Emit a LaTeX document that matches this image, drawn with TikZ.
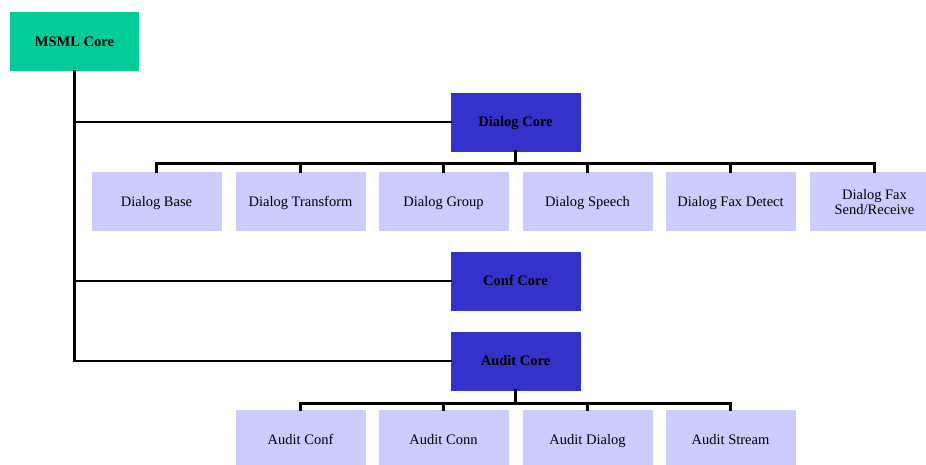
\documentclass[tikz,border=0pt]{standalone}
\usepackage{fontspec}
\setmainfont{Liberation Serif}
\definecolor{msmlgreen}{HTML}{00CC99}
\definecolor{coreblue}{HTML}{3333CC}
\definecolor{leaflav}{HTML}{CCCCFF}
\begin{document}
\begin{tikzpicture}[x=1pt,y=1pt,
  box/.style={rectangle, inner sep=0pt, minimum width=130pt, minimum height=59pt,
    align=center, text height=9.6pt, text depth=0pt,
    font=\fontsize{14.5}{15}\selectfont},
  rootbox/.style={box, fill=msmlgreen, minimum width=129pt, font=\fontsize{14.5}{15}\selectfont\bfseries},
  corebox/.style={box, fill=coreblue, font=\fontsize{14.5}{15}\selectfont\bfseries},
  leafbox/.style={box, fill=leaflav},
  twoline/.style={leafbox, text height=, text depth=0pt},
  wire/.style={line width=2.8pt, line join=miter, line cap=rect}]
\useasboundingbox (0,0) rectangle (926,-464);
\clip (0,0) rectangle (926,-464);

% root and core modules
\node[rootbox] (msml)   at (74.5,-41.5)  {MSML Core};
\node[corebox] (dialog) at (515.5,-122) {Dialog Core};
\node[corebox] (conf)   at (515.5,-281) {Conf Core};
\node[corebox] (audit)  at (515.5,-361) {Audit Core};

% dialog packages
\node[leafbox] (dbase)  at (156.5,-201.5) {Dialog Base};
\node[leafbox] (dtrans) at (300.5,-201.5) {Dialog Transform};
\node[leafbox] (dgroup) at (443.5,-201.5) {Dialog Group};
\node[leafbox] (dspch)  at (587.5,-201.5) {Dialog Speech};
\node[leafbox] (dfaxd)  at (730.5,-201.5) {Dialog Fax Detect};
\node[twoline] (dfaxs)  at (874.5,-201.5) {Dialog Fax\\Send/Receive};

% audit packages
\node[leafbox] (aconf)  at (300.5,-439.5) {Audit Conf};
\node[leafbox] (aconn)  at (443.5,-439.5) {Audit Conn};
\node[leafbox] (adlg)   at (587.5,-439.5) {Audit Dialog};
\node[leafbox] (astrm)  at (730.5,-439.5) {Audit Stream};

% trunk from the root to each core
\draw[wire] (msml.south) |- (dialog.west);
\draw[wire] (msml.south) |- (conf.west);
\draw[wire] (msml.south) |- (audit.west);

% dialog bus
\foreach \c in {dbase,dtrans,dgroup,dspch,dfaxd,dfaxs}
  \draw[wire] (dialog.south) -- ++(0,-11.5) -| (\c.north);

% audit bus
\foreach \c in {aconf,aconn,adlg,astrm}
  \draw[wire] (audit.south) -- ++(0,-12.5) -| (\c.north);
\end{tikzpicture}
\end{document}
